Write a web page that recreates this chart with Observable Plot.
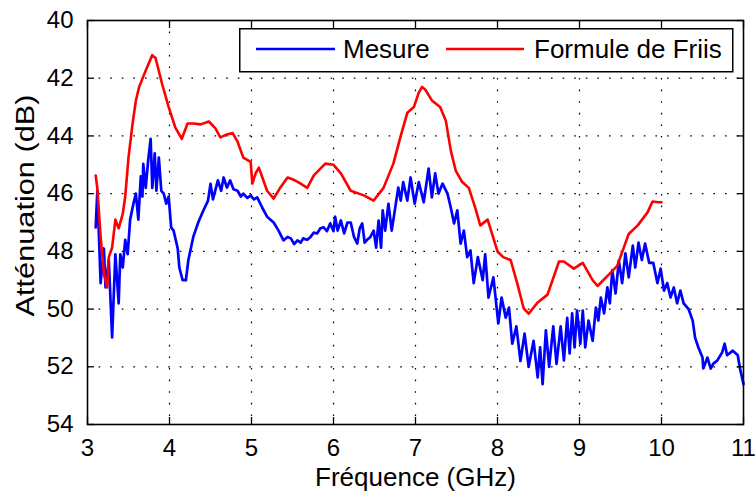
<!DOCTYPE html>
<html>
<head>
<meta charset="utf-8">
<script src="https://cdn.jsdelivr.net/npm/d3@7"></script>
<script src="https://cdn.jsdelivr.net/npm/@observablehq/plot@0.6"></script>
<style>
  html, body { margin: 0; padding: 0; background: #fff; }
  #wrap { position: relative; width: 756px; height: 492px; font-family: "Liberation Sans", Arial, Helvetica, sans-serif; }
  #legend { position: absolute; left: 239px; top: 28px; }
</style>
</head>
<body>
<div id="wrap"></div>
<script>
// ---- Data ----
const xTicks = [3, 4, 5, 6, 7, 8, 9, 10, 11];
const yTicks = [40, 42, 44, 46, 48, 50, 52, 54];
const xLabel = "Fréquence (GHz)";
const yLabel = "Atténuation (dB)";
const seriesNames = ["Mesure", "Formule de Friis"];

// Mesure (blue) – frequency (GHz) and attenuation (dB)
const mesureFreq = [3.10,3.12,3.16,3.20,3.22,3.26,3.30,3.34,3.38,3.40,3.43,3.46,3.49,3.52,3.56,3.59,3.62,3.65,3.67,3.68,3.71,3.74,3.77,3.79,3.82,3.84,3.87,3.90,3.93,3.96,3.99,4.02,4.05,4.10,4.12,4.16,4.20,4.23,4.29,4.35,4.41,4.47,4.50,4.53,4.59,4.63,4.66,4.70,4.74,4.78,4.83,4.87,4.90,4.95,4.99,5.03,5.07,5.13,5.19,5.27,5.33,5.39,5.44,5.48,5.52,5.56,5.60,5.63,5.68,5.72,5.76,5.80,5.84,5.88,5.92,5.96,6.00,6.02,6.05,6.09,6.13,6.17,6.21,6.25,6.29,6.32,6.35,6.38,6.41,6.45,6.49,6.52,6.55,6.58,6.60,6.63,6.67,6.71,6.76,6.79,6.82,6.85,6.90,6.94,6.99,7.04,7.10,7.16,7.20,7.24,7.28,7.33,7.39,7.43,7.47,7.51,7.55,7.59,7.63,7.67,7.71,7.76,7.82,7.85,7.89,7.95,8.01,8.05,8.10,8.14,8.18,8.23,8.28,8.33,8.38,8.44,8.49,8.52,8.55,8.59,8.63,8.68,8.72,8.77,8.81,8.85,8.88,8.91,8.94,8.97,9.01,9.04,9.07,9.11,9.16,9.20,9.23,9.26,9.30,9.34,9.37,9.40,9.44,9.48,9.52,9.56,9.60,9.65,9.68,9.72,9.76,9.80,9.85,9.90,9.95,9.99,10.03,10.07,10.11,10.15,10.19,10.23,10.27,10.33,10.38,10.41,10.45,10.50,10.51,10.56,10.60,10.63,10.68,10.74,10.77,10.80,10.87,10.93,10.96,11.00];
const mesureAtt = [47.17,45.9,49.1,47.9,49.25,48.3,50.98,48.1,49.8,48.1,48.56,47.6,48.1,46.9,46.35,46.0,46.9,45.4,46.1,44.97,45.8,44.85,44.1,45.8,44.6,45.9,44.75,45.9,46.0,46.35,46.1,47.17,47.28,47.9,48.56,49.0,49.0,48.3,47.5,47.0,46.6,46.24,45.66,46.2,45.54,45.9,45.44,45.79,45.54,45.85,45.9,46.1,46.0,46.15,46.07,46.2,46.13,46.48,46.8,47.0,47.28,47.62,47.5,47.55,47.75,47.62,47.7,47.55,47.6,47.5,47.35,47.38,47.2,47.17,47.3,47.03,47.3,46.8,47.28,46.93,47.38,47.0,47.0,47.5,47.73,47.2,47.03,47.7,47.6,47.5,47.28,47.87,46.93,47.87,46.58,47.28,46.35,47.28,46.35,45.79,46.24,45.6,46.24,45.44,46.35,45.6,46.3,45.13,46.13,45.3,46.0,45.65,46.0,46.48,47.03,46.58,47.73,47.28,48.2,47.97,49.1,48.2,49.0,48.1,49.6,48.9,50.5,49.6,50.3,49.95,51.2,50.6,51.8,50.85,52.0,51.1,52.37,51.33,52.6,50.74,52.0,50.6,51.9,50.6,51.78,50.3,51.54,50.15,51.33,50.05,51.2,50.05,51.33,50.4,51.1,49.95,50.4,49.6,50.15,49.25,49.8,48.66,49.46,48.32,49.1,48.07,48.9,47.8,48.56,47.7,48.3,47.73,48.4,48.4,49.1,48.6,49.36,49.1,49.6,49.25,49.8,49.36,49.8,50.0,50.4,51.0,51.33,51.68,52.06,51.68,52.06,51.9,51.78,51.5,51.2,51.6,51.44,51.6,52.1,52.6];

// Formule de Friis (red)
const friisFreq = [3.10,3.12,3.16,3.20,3.24,3.26,3.30,3.34,3.38,3.43,3.46,3.50,3.55,3.59,3.63,3.71,3.79,3.83,3.91,3.99,4.07,4.15,4.22,4.29,4.38,4.48,4.56,4.62,4.70,4.77,4.83,4.90,4.99,5.01,5.05,5.09,5.14,5.19,5.27,5.35,5.44,5.50,5.57,5.68,5.76,5.90,6.00,6.09,6.21,6.37,6.49,6.61,6.73,6.82,6.90,6.98,7.04,7.08,7.12,7.20,7.30,7.37,7.43,7.49,7.57,7.65,7.73,7.79,7.88,8.00,8.07,8.16,8.24,8.32,8.38,8.49,8.61,8.75,8.81,8.93,9.04,9.16,9.22,9.36,9.46,9.54,9.60,9.71,9.83,9.89,9.96,10.00];
const friisAtt = [45.37,45.82,47.5,48.77,49.25,48.2,47.87,46.9,47.2,46.7,46.1,44.75,43.57,42.77,42.3,41.73,41.2,41.3,42.2,43.0,43.7,44.1,43.57,43.57,43.6,43.5,43.74,44.05,43.95,43.9,44.2,44.75,44.9,45.65,45.3,45.1,45.5,45.9,46.17,45.8,45.44,45.5,45.6,45.8,45.37,44.96,45.0,45.3,45.9,46.06,46.24,45.8,44.96,44.0,43.2,43.0,42.5,42.3,42.4,42.77,43.0,43.47,44.5,45.2,45.6,45.8,46.5,47.1,46.9,48.0,48.2,48.3,49.1,49.98,50.16,49.77,49.5,48.35,48.35,48.6,48.4,49.0,49.2,48.8,48.5,47.87,47.4,47.1,46.65,46.27,46.3,46.3];

const seriesColors = ["#0000ff", "#ff0000"];

const mesure = mesureFreq.map((f, i) => ({f, a: mesureAtt[i]}));
const friis = friisFreq.map((f, i) => ({f, a: friisAtt[i]}));

const W = 756, H = 492;
const gridStyle = { stroke: "#000", strokeOpacity: 1, strokeWidth: 1.2, strokeDasharray: "1.6,10" };
const chart = Plot.plot({
  width: W,
  height: H,
  marginLeft: 87,
  marginRight: 13,
  marginTop: 20,
  marginBottom: 68,
  style: { fontFamily: '"Liberation Sans", Arial, Helvetica, sans-serif', fontSize: "24px", background: "#fff", color: "#000" },
  x: { domain: [3, 11] },
  y: { domain: [40, 54], reverse: true },
  marks: [
    Plot.ruleX(xTicks.slice(1, -1), { x: d => d, ...gridStyle }),
    Plot.ruleY(yTicks.slice(1, -1), { y: d => d, ...gridStyle }),
    Plot.line(mesure, { x: "f", y: "a", stroke: seriesColors[0], strokeWidth: 2.7 }),
    Plot.line(friis, { x: "f", y: "a", stroke: seriesColors[1], strokeWidth: 2.6 }),
    Plot.axisX(xTicks, { anchor: "bottom", tickSize: -7, tickPadding: 21, label: null, fontSize: 24, strokeWidth: 1.3 }),
    Plot.axisX(xTicks, { anchor: "top", tickSize: -7, tickFormat: () => "", label: null, strokeWidth: 1.3 }),
    Plot.axisY(yTicks, { anchor: "left", tickSize: -7, tickPadding: 21, label: null, fontSize: 24, strokeWidth: 1.3 }),
    Plot.axisY(yTicks, { anchor: "right", tickSize: -7, tickFormat: () => "", label: null, strokeWidth: 1.3 }),
    Plot.frame({ stroke: "#000", strokeWidth: 1.6 }),
    Plot.text([xLabel], { frameAnchor: "bottom", dy: 53, text: d => d, fontSize: 26, lineAnchor: "middle", textAnchor: "middle" }),
    Plot.text([yLabel], { frameAnchor: "left", dx: -62, dy: -17, rotate: -90, text: d => d, fontSize: 26, lineAnchor: "middle", textAnchor: "middle" })
  ]
});

const wrap = document.getElementById("wrap");
wrap.appendChild(chart);

// stretch the rotated y label to the length seen in the reference
d3.select(chart).selectAll("text").filter(function () { return this.textContent === yLabel; })
  .attr("textLength", 222).attr("lengthAdjust", "spacingAndGlyphs");

// Legend box (inside the axes, top right, as in the reference)
const lg = d3.create("svg").attr("id", "legend").attr("width", 495).attr("height", 45)
  .style("font-family", '"Liberation Sans", Arial, Helvetica, sans-serif');
lg.append("rect").attr("x", 0.75).attr("y", 0.75).attr("width", 493).attr("height", 43)
  .attr("fill", "#fff").attr("stroke", "#000").attr("stroke-width", 1.5);
const items = [
  { x1: 17, x2: 96, tx: 104 },
  { x1: 207, x2: 285, tx: 295 }
];
items.forEach((it, i) => {
  lg.append("line").attr("x1", it.x1).attr("x2", it.x2).attr("y1", 21).attr("y2", 21)
    .attr("stroke", seriesColors[i]).attr("stroke-width", 2.6);
  lg.append("text").attr("x", it.tx).attr("y", 21).attr("dy", "0.35em")
    .attr("font-size", 26).attr("fill", "#000").text(seriesNames[i]);
});
wrap.appendChild(lg.node());
</script>
</body>
</html>
